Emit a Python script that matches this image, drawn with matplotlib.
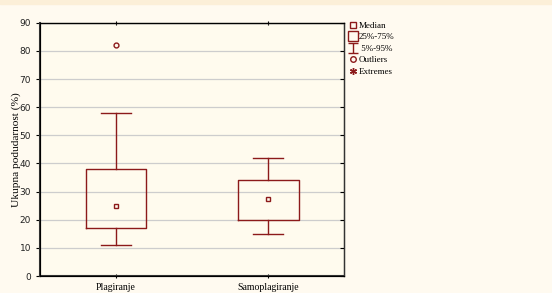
import matplotlib
matplotlib.use('Agg')
import matplotlib.pyplot as plt
from matplotlib.lines import Line2D
from matplotlib.path import Path

# box summaries (values in %)
groups = ['Plagiranje', 'Samoplagiranje']
q1 = [17, 20]
medians = [25, 27.5]
q3 = [38, 34]
p5 = [11, 15]
p95 = [58, 42]
outliers = [[82], []]

red = '#8c1a1a'
serif = ['Liberation Serif', 'DejaVu Serif']

fig = plt.figure(figsize=(5.52, 2.93), dpi=100, facecolor='#fffaf0')
fig.patches.append(plt.Rectangle((0, 0.985), 1, 0.015, transform=fig.transFigure,
                                 color='#fcefd8', zorder=-1))
ax = fig.add_axes([0.0725, 0.058, 0.551, 0.864], facecolor='#fffbee')

stats = []
for i, g in enumerate(groups):
    stats.append({'label': g, 'q1': q1[i], 'med': medians[i], 'q3': q3[i],
                  'whislo': p5[i], 'whishi': p95[i], 'fliers': outliers[i]})

ax.bxp(stats, positions=[0, 1], widths=0.4, patch_artist=False,
       boxprops=dict(color=red, lw=1.0),
       whiskerprops=dict(color=red, lw=1.0),
       capprops=dict(color=red, lw=1.0), capwidths=0.2,
       medianprops=dict(lw=0),
       flierprops=dict(marker='o', ms=3.5, mfc='none', mec=red, mew=1.0))
ax.plot([0, 1], medians, 's', ms=3.5, mfc='none', mec=red, mew=1.0, ls='none')

ax.set_xlim(-0.5, 1.5)
ax.set_ylim(0, 90)
ax.set_yticks(range(0, 91, 10))
ax.set_xticks([0, 1])
ax.set_xticklabels(groups, family=serif, fontsize=7)
ax.tick_params(axis='y', labelsize=6.5, length=3, labelcolor='#222222')
ax.tick_params(axis='x', length=3, direction='inout', top=True)
ax.yaxis.grid(True, color='#cdcdcd', lw=0.9)
ax.set_axisbelow(True)
for s in ['left', 'bottom']:
    ax.spines[s].set_linewidth(1.5)
    ax.spines[s].set_color('#333333')
for s in ['top', 'right']:
    ax.spines[s].set_linewidth(1.0)
    ax.spines[s].set_color('#333333')
ax.set_ylabel('Ukupna podudarnost (%)', family=serif, fontsize=8.2)
ax.yaxis.set_label_coords(-0.063, 0.5)

# inward ticks on the right spine
ax2 = ax.twinx()
ax2.set_ylim(0, 90)
ax2.set_yticks(range(0, 91, 10))
ax2.tick_params(axis='y', direction='in', length=3, labelright=False)
ax2.spines['right'].set_color('#333333')

# legend symbols
ibeam = Path([(-1, 1), (1, 1), (0, 1), (0, -1), (-1, -1), (1, -1)],
             [Path.MOVETO, Path.LINETO, Path.MOVETO, Path.LINETO, Path.MOVETO, Path.LINETO])
handles = [
    Line2D([], [], marker='s', ms=4, mfc='none', mec=red, ls='none'),
    Line2D([], [], marker='s', ms=7, mfc='none', mec=red, ls='none'),
    Line2D([], [], marker=ibeam, ms=7, mfc='none', mec=red, ls='none'),
    Line2D([], [], marker='o', ms=4, mfc='none', mec=red, ls='none'),
    Line2D([], [], marker=(6, 2, 0), ms=5, mec=red, ls='none'),
]
labels = ['Median', '25%-75%', ' 5%-95%', 'Outliers', 'Extremes']
ax2.legend(handles, labels, loc='upper left', bbox_to_anchor=(0.995, 1.03),
           frameon=False, prop={'family': serif, 'size': 6.5},
           handlelength=0.8, handletextpad=0.3, labelspacing=0.35, borderpad=0.2)

plt.savefig('out.png', dpi=100, facecolor=fig.get_facecolor())
